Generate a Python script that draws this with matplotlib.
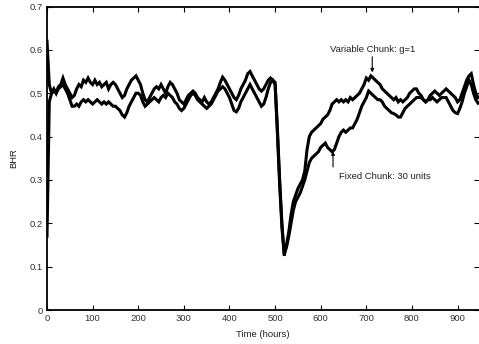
import numpy as np
import matplotlib
matplotlib.use("Agg")
import matplotlib.pyplot as plt

# time grid (hours), one sample every 5 hours
hours = list(range(0, 950, 5))

variable_chunk = [
    0.62, 0.52, 0.50, 0.51, 0.50, 0.515, 0.52, 0.535, 0.52, 0.51,
    0.50, 0.49, 0.495, 0.51, 0.52, 0.515, 0.53, 0.525, 0.535, 0.525,
    0.52, 0.53, 0.52, 0.525, 0.515, 0.52, 0.525, 0.51, 0.52, 0.525,
    0.52, 0.51, 0.50, 0.49, 0.495, 0.51, 0.52, 0.53, 0.535, 0.54,
    0.53, 0.52, 0.50, 0.485, 0.48, 0.49, 0.50, 0.51, 0.515, 0.51,
    0.52, 0.51, 0.50, 0.515, 0.525, 0.52, 0.51, 0.50, 0.485, 0.48,
    0.475, 0.485, 0.495, 0.50, 0.505, 0.50, 0.49, 0.485, 0.48, 0.49,
    0.48, 0.475, 0.48, 0.49, 0.50, 0.51, 0.525, 0.537, 0.53, 0.52,
    0.51, 0.50, 0.49, 0.485, 0.495, 0.51, 0.52, 0.53, 0.545, 0.55,
    0.54, 0.53, 0.52, 0.51, 0.505, 0.51, 0.52, 0.53, 0.535, 0.53,
    0.525, 0.42, 0.30, 0.20, 0.125, 0.15, 0.18, 0.22, 0.25, 0.265,
    0.28, 0.29, 0.30, 0.32, 0.37, 0.40, 0.41, 0.415, 0.42, 0.425,
    0.43, 0.44, 0.445, 0.45, 0.46, 0.475, 0.48, 0.485, 0.48, 0.485,
    0.48, 0.485, 0.48, 0.49, 0.485, 0.49, 0.495, 0.50, 0.51, 0.52,
    0.535, 0.53, 0.54, 0.535, 0.53, 0.525, 0.52, 0.51, 0.505, 0.50,
    0.495, 0.49, 0.485, 0.49, 0.48, 0.485, 0.48, 0.485, 0.49, 0.50,
    0.505, 0.51, 0.51, 0.50, 0.495, 0.485, 0.48, 0.485, 0.495, 0.50,
    0.505, 0.50, 0.495, 0.50, 0.505, 0.51, 0.505, 0.50, 0.495, 0.49,
    0.48, 0.485, 0.50, 0.515, 0.53, 0.54, 0.545, 0.52, 0.50, 0.49,
]

fixed_chunk = [
    0.17, 0.48, 0.50, 0.505, 0.50, 0.51, 0.515, 0.52, 0.51, 0.50,
    0.485, 0.47, 0.47, 0.475, 0.47, 0.48, 0.485, 0.48, 0.485, 0.48,
    0.475, 0.48, 0.485, 0.48, 0.475, 0.48, 0.475, 0.48, 0.475, 0.47,
    0.47, 0.465, 0.46, 0.45, 0.445, 0.455, 0.47, 0.48, 0.49, 0.50,
    0.50, 0.495, 0.48, 0.47, 0.475, 0.48, 0.485, 0.49, 0.485, 0.48,
    0.49, 0.495, 0.49, 0.50, 0.495, 0.49, 0.48, 0.475, 0.465, 0.46,
    0.465, 0.475, 0.485, 0.495, 0.50, 0.495, 0.485, 0.48, 0.475, 0.47,
    0.465, 0.47, 0.475, 0.485, 0.495, 0.505, 0.51, 0.515, 0.51, 0.50,
    0.49, 0.475, 0.46, 0.457, 0.465, 0.48, 0.49, 0.50, 0.51, 0.52,
    0.51, 0.50, 0.49, 0.48, 0.47, 0.475, 0.49, 0.51, 0.525, 0.53,
    0.52, 0.41, 0.29, 0.19, 0.13, 0.145, 0.17, 0.20, 0.23, 0.25,
    0.26, 0.27, 0.285, 0.30, 0.32, 0.34, 0.35, 0.355, 0.36, 0.365,
    0.375, 0.38, 0.385, 0.375, 0.37, 0.365, 0.37, 0.385, 0.40, 0.41,
    0.415, 0.41, 0.415, 0.42, 0.42, 0.43, 0.44, 0.455, 0.47, 0.48,
    0.49, 0.505, 0.50, 0.495, 0.49, 0.485, 0.485, 0.48, 0.47, 0.465,
    0.46, 0.455, 0.453, 0.45, 0.445, 0.445, 0.455, 0.465, 0.47, 0.475,
    0.48, 0.485, 0.49, 0.49, 0.49, 0.485, 0.48, 0.485, 0.485, 0.49,
    0.485, 0.48, 0.485, 0.49, 0.49, 0.49, 0.48, 0.47, 0.46, 0.455,
    0.453, 0.465, 0.48, 0.50, 0.515, 0.53, 0.52, 0.50, 0.485, 0.477,
]

x_ticks = [0, 100, 200, 300, 400, 500, 600, 700, 800, 900]
y_ticks = [0, 0.1, 0.2, 0.3, 0.4, 0.5, 0.6, 0.7]
y_tick_labels = ["0", "0.1", "0.2", "0.3", "0.4", "0.5", "0.6", "0.7"]

plt.rcParams['font.family'] = ['Liberation Sans', 'DejaVu Sans']

fig = plt.figure(figsize=(4.79, 3.44), dpi=100)
ax = fig.add_axes([47 / 479, 1 - 310 / 344, 1 - 47 / 479, (310 - 6.5) / 344])

ax.plot(hours, variable_chunk, color='black', lw=2.2, solid_joinstyle='miter')
ax.plot(hours, fixed_chunk, color='black', lw=2.2, solid_joinstyle='miter')

ax.set_xlim(0, 947)
ax.set_ylim(0, 0.7)
ax.set_xticks(x_ticks)
ax.set_yticks(y_ticks)
ax.set_yticklabels(y_tick_labels)
ax.tick_params(direction='in', length=3.5, width=0.8, top=True, right=True,
               labelsize=6.8, labelcolor='#333333', pad=3)
for side in ['left', 'bottom', 'top']:
    ax.spines[side].set_linewidth(1.3)
ax.spines['right'].set_visible(False)

ax.set_xlabel("Time (hours)", fontsize=6.8, color='#222222', labelpad=5)
ax.set_ylabel("BHR", fontsize=6.8, color='#222222', labelpad=8)

ax.annotate("Variable Chunk: g=1", xy=(713, 0.548), xytext=(713, 0.600),
            ha='center', va='center', fontsize=6.8, color='#222222')
ax.annotate("", xy=(713, 0.548), xytext=(713, 0.584),
            arrowprops=dict(arrowstyle='-|>', color='black', lw=0.8,
                            mutation_scale=5, shrinkA=0, shrinkB=0))
ax.annotate("Fixed Chunk: 30 units", xy=(640, 0.309), xytext=(640, 0.309),
            ha='left', va='center', fontsize=6.8, color='#222222')
ax.annotate("", xy=(627, 0.366), xytext=(627, 0.330),
            arrowprops=dict(arrowstyle='-|>', color='black', lw=0.8,
                            mutation_scale=5, shrinkA=0, shrinkB=0))

fig.savefig("out.png", dpi=100)
